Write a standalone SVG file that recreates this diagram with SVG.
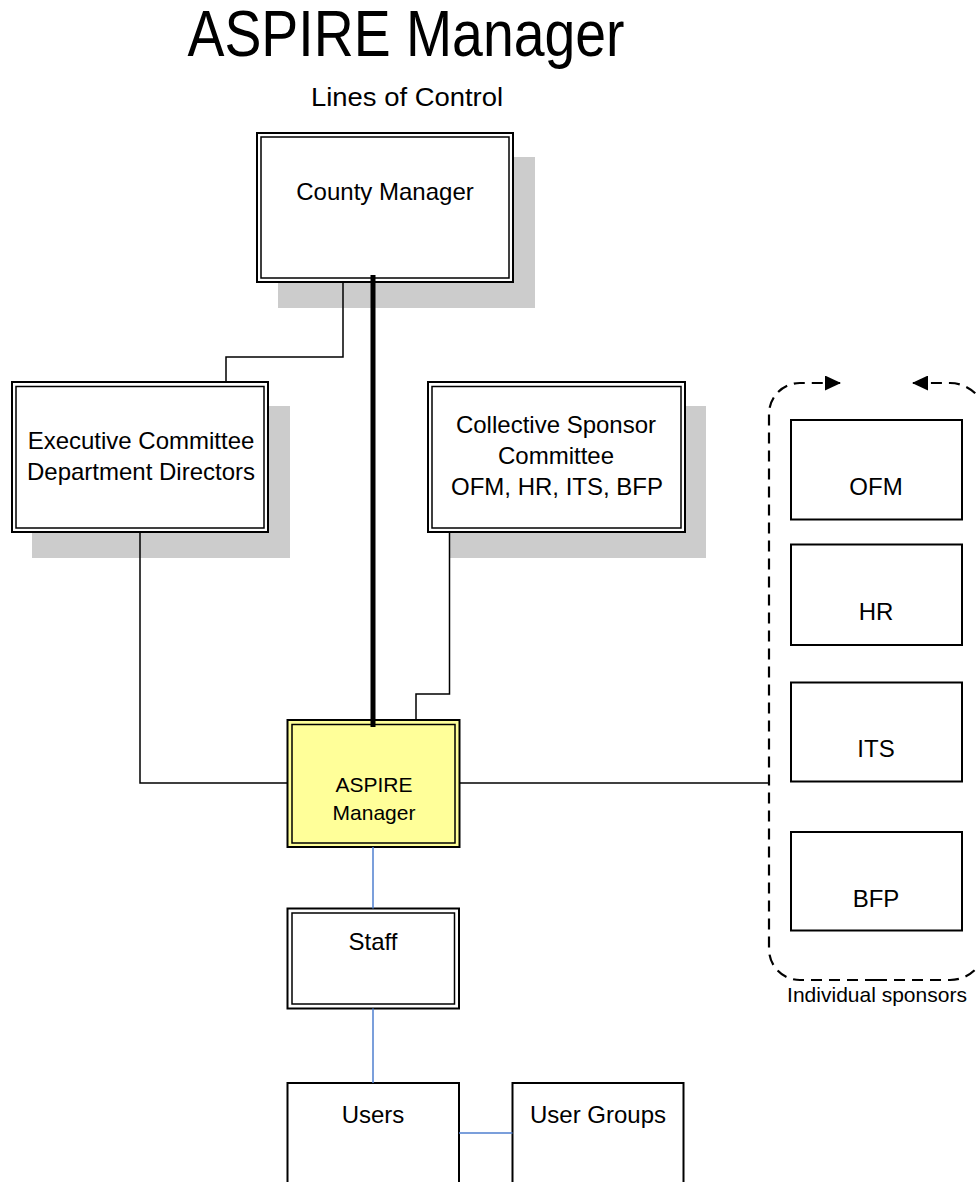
<svg xmlns="http://www.w3.org/2000/svg" width="976" height="1182" viewBox="0 0 976 1182">
<style>
  text { font-family: "Liberation Sans", Arial, sans-serif; fill: #000; text-anchor: middle; }
  .t24 { font-size: 24px; }
  .t21 { font-size: 21px; }
  .shadow { fill: #cccccc; stroke: none; }
  .outer { fill: #ffffff; stroke: #000; stroke-width: 2; }
  .inner { fill: none; stroke: #000; stroke-width: 1.5; }
  .single { fill: #ffffff; stroke: #000; stroke-width: 2; }
  .yellow { fill: #ffff99; }
  .line { fill: none; stroke: #000; stroke-width: 1.5; }
  .thick { fill: none; stroke: #000; stroke-width: 5; }
  .blue { fill: none; stroke: #4f7fcf; stroke-width: 1.5; }
  .dash { fill: none; stroke: #000; stroke-width: 2.2; stroke-dasharray: 11 7; }
</style>
<defs>
  <marker id="arrow" viewBox="0 0 16 15" refX="15" refY="7.5" markerWidth="16" markerHeight="15" markerUnits="userSpaceOnUse" orient="auto">
    <path d="M0,0 L16,7.5 L0,15 Z" fill="#000"/>
  </marker>
</defs>

<g id="title">
  <text x="406" y="56" style="font-size:64px" textLength="437" lengthAdjust="spacingAndGlyphs">ASPIRE Manager</text>
  <text x="407" y="106" style="font-size:26px" textLength="192" lengthAdjust="spacingAndGlyphs">Lines of Control</text>
</g>

<g id="county-manager">
  <rect class="shadow" x="278" y="157" width="257" height="151"/>
  <rect class="outer" x="257" y="133" width="256" height="149"/>
  <rect class="inner" x="261" y="137" width="248" height="141"/>
  <text class="t24" x="385" y="200">County Manager</text>
</g>

<g id="executive-committee">
  <rect class="shadow" x="32" y="406" width="258" height="152"/>
  <rect class="outer" x="12" y="382" width="256" height="150"/>
  <rect class="inner" x="16" y="386.5" width="248" height="141.5"/>
  <text class="t24" x="141" y="449">Executive Committee</text>
  <text class="t24" x="141" y="480">Department Directors</text>
</g>

<g id="collective-sponsor-committee">
  <rect class="shadow" x="450" y="406" width="256" height="152"/>
  <rect class="outer" x="428" y="382" width="257" height="150"/>
  <rect class="inner" x="432" y="386.5" width="249" height="141.5"/>
  <text class="t24" x="556" y="433">Collective Sponsor</text>
  <text class="t24" x="556" y="464">Committee</text>
  <text class="t24" x="557" y="495">OFM, HR, ITS, BFP</text>
</g>

<g id="aspire-manager">
  <rect class="outer yellow" x="287.5" y="720" width="172" height="127"/>
  <rect class="inner" x="292" y="724.5" width="163" height="118.5"/>
  <text class="t21" x="374" y="792">ASPIRE</text>
  <text class="t21" x="374" y="820">Manager</text>
</g>

<g id="staff">
  <rect class="outer" x="287.5" y="908.5" width="171.5" height="100"/>
  <rect class="inner" x="292" y="913" width="162.5" height="91"/>
  <text class="t24" x="373" y="950">Staff</text>
</g>

<g id="users">
  <rect class="single" x="287.5" y="1083" width="171.5" height="120"/>
  <text class="t24" x="373" y="1123">Users</text>
</g>

<g id="user-groups">
  <rect class="single" x="512.5" y="1083" width="171" height="120"/>
  <text class="t24" x="598" y="1123">User Groups</text>
</g>

<g id="ofm">
  <rect class="single" x="791" y="420" width="171" height="99.5"/>
  <text class="t24" x="876" y="495">OFM</text>
</g>

<g id="hr">
  <rect class="single" x="791" y="544.5" width="171" height="100.5"/>
  <text class="t24" x="876" y="620">HR</text>
</g>

<g id="its">
  <rect class="single" x="791" y="682.5" width="171" height="99"/>
  <text class="t24" x="876" y="757">ITS</text>
</g>

<g id="bfp">
  <rect class="single" x="791" y="832" width="171" height="98.5"/>
  <text class="t24" x="876" y="907">BFP</text>
</g>

<g id="individual-sponsors">
  <path class="dash" d="M876,980 H800 A31,31 0 0 1 769,949 V414 A31,31 0 0 1 800,383 H840" marker-end="url(#arrow)"/>
  <path class="dash" d="M876,980 H950 A36,36 0 0 0 986,944 V419 A36,36 0 0 0 950,383 H913" marker-end="url(#arrow)"/>
  <text class="t21" x="877" y="1002">Individual sponsors</text>
</g>

<g id="connectors">
  <polyline class="line" points="343,282 343,357 226,357 226,382"/>
  <line class="thick" x1="373" y1="275" x2="373" y2="727"/>
  <polyline class="line" points="449.5,532 449.5,694 416,694 416,720"/>
  <polyline class="line" points="140,532 140,783 287.5,783"/>
  <line class="line" x1="459.5" y1="783" x2="769" y2="783"/>
  <line class="blue" x1="373" y1="847" x2="373" y2="908.5"/>
  <line class="blue" x1="373" y1="1008.5" x2="373" y2="1083"/>
  <line class="blue" x1="459" y1="1133" x2="512.5" y2="1133"/>
</g>
</svg>
